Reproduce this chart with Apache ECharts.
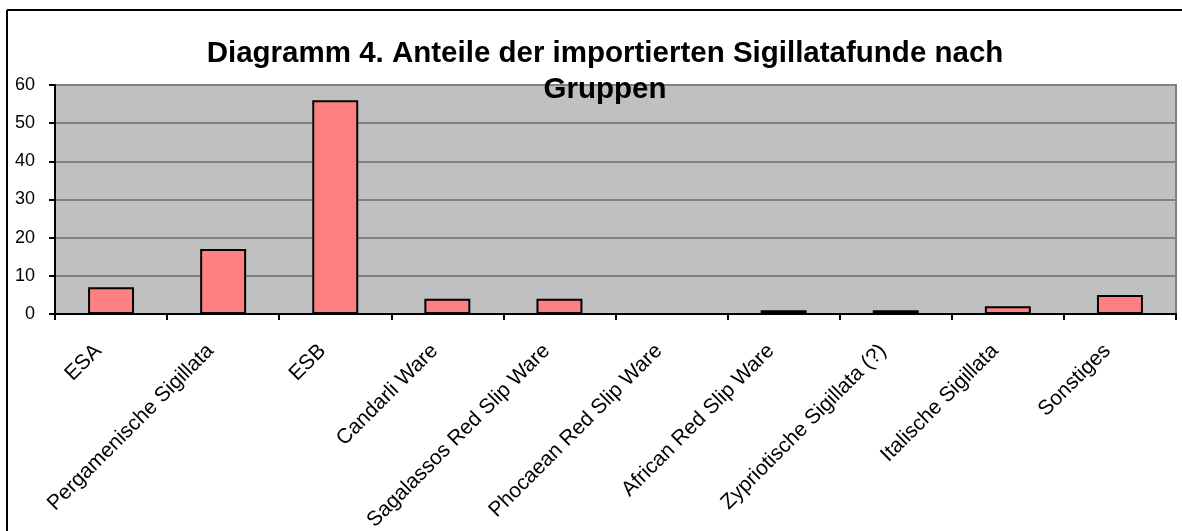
<!DOCTYPE html>
<html>
<head>
<meta charset="utf-8">
<script src="https://cdn.jsdelivr.net/npm/echarts@6/dist/echarts.min.js"></script>
<style>
  html, body { margin: 0; padding: 0; background: #fff; }
  #c { width: 1182px; height: 531px; }
</style>
</head>
<body>
<div id="c"></div>
<script>
// data
const categories = [
  "ESA", "Pergamenische Sigillata", "ESB", "Candarli Ware",
  "Sagalassos Red Slip Ware", "Phocaean Red Slip Ware", "African Red Slip Ware",
  "Zypriotische Sigillata (?)", "Italische Sigillata", "Sonstiges"
];
const counts = [7, 17, 56, 4, 4, 0, 1, 1, 2, 5];
const yTicks = [0, 10, 20, 30, 40, 50, 60];

const font = "Liberation Sans, Arial, sans-serif";
const chart = echarts.init(document.getElementById("c"), null, { renderer: "canvas" });

chart.setOption({
  animation: false,
  backgroundColor: "#ffffff",
  title: {
    text: "Diagramm 4. Anteile der importierten Sigillatafunde nach\nGruppen",
    left: 600,
    top: 31,
    textAlign: "center",
    textStyle: { fontFamily: font, fontSize: 29.5, fontWeight: "bold", color: "#000", lineHeight: 36 },
    z: 10
  },
  graphic: [
    // outer chart frame (left + top visible)
    { type: "line", shape: { x1: 7, y1: 10, x2: 1182, y2: 10 }, style: { stroke: "#000", lineWidth: 2 }, z: 5 },
    { type: "line", shape: { x1: 7, y1: 10, x2: 7, y2: 531 }, style: { stroke: "#000", lineWidth: 2 }, z: 5 }
  ],
  grid: {
    left: 55, right: 6, top: 85, bottom: 217,
    containLabel: false, outerBoundsMode: "none",
    show: true, backgroundColor: "#c0c0c0", borderColor: "#808080", borderWidth: 2
  },
  xAxis: {
    type: "category",
    data: categories,
    z: 5,
    axisLine: { lineStyle: { color: "#000", width: 2 } },
    axisTick: { show: true, length: 6, lineStyle: { color: "#000", width: 2 } },
    axisLabel: {
      rotate: 45, interval: 0, margin: 21, padding: [0, 18, 0, 0],
      fontFamily: font, fontSize: 21, color: "#000"
    }
  },
  yAxis: {
    type: "value",
    min: yTicks[0], max: yTicks[yTicks.length - 1], interval: 10,
    axisLine: { show: true, lineStyle: { color: "#000", width: 2 } },
    axisTick: { show: true, length: 6, lineStyle: { color: "#000", width: 2 } },
    axisLabel: { fontFamily: font, fontSize: 18, color: "#000", margin: 20 },
    splitLine: { lineStyle: { color: "#808080", width: 2 } }
  },
  series: [{
    type: "bar",
    data: counts,
    barWidth: "41%",
    itemStyle: { color: "#ff8080", borderColor: "#000", borderWidth: 2 }
  }]
});
</script>
</body>
</html>
